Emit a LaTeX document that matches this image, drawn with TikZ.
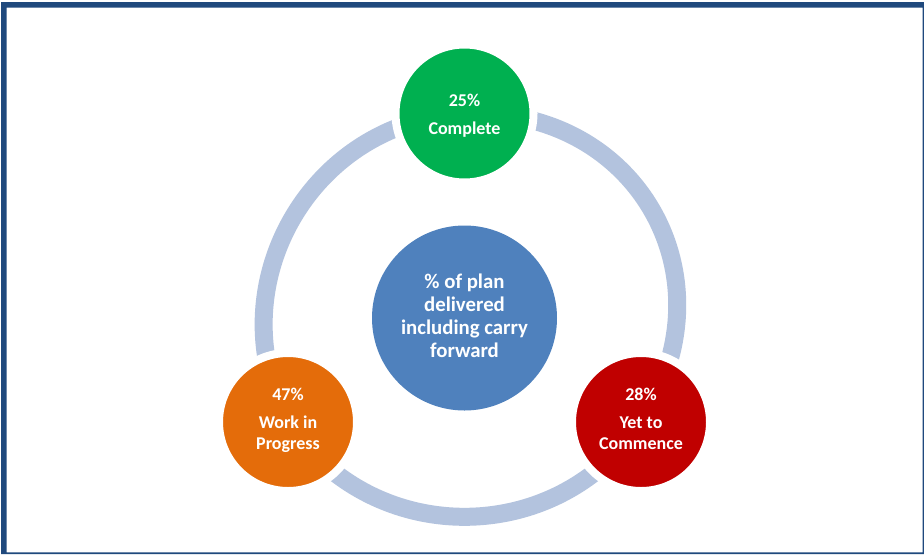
\documentclass[tikz,border=0pt]{standalone}
\usepackage{fontspec}
\setmainfont{Carlito}
\usetikzlibrary{calc,backgrounds}
\definecolor{frameblue}{HTML}{1F497D}
\definecolor{ringblue}{HTML}{B3C3DE}
\definecolor{hubblue}{HTML}{4F81BD}
\definecolor{donegreen}{HTML}{00B050}
\definecolor{wiporange}{HTML}{E46C0A}
\definecolor{pendred}{HTML}{C00000}
\begin{document}
\begin{tikzpicture}[x=1pt,y=-1pt,
  ring/.style={draw=ringblue, line width=18pt},
  hub/.style={circle, fill=hubblue, minimum size=185pt, inner sep=0pt},
  sat/.style={circle, draw=white, line width=8pt, minimum size=138pt, inner sep=0pt},
  sattext/.style={anchor=base, text=white, inner sep=0pt,
    font=\fontsize{18}{21.6}\selectfont\bfseries},
  hubtext/.style={anchor=base, text=white, inner sep=0pt,
    font=\fontsize{20.8}{23}\selectfont\bfseries}]
\useasboundingbox (0,0) rectangle (924,555);

% hub and the three status circles
\node[hub] (hub) at (464.5,318) {};
\node[sat, fill=donegreen] (done) at (464.5,113.5) {};
\node[sat, fill=wiporange] (wip) at (288,422) {};
\node[sat, fill=pendred] (pend) at (641,422) {};

% cycle ring behind the circles
\begin{pgfonlayer}{background}
  \fill[white] (0,0) rectangle (924,555);
  \draw[ring] (done.center) to[bend left=62.8, looseness=1.24] (pend.center);
  \draw[ring] (done.center) to[bend right=57.5, looseness=1.11] (wip.center);
  \draw[ring] (wip.center) to[bend right=56.6, looseness=1.10] (pend.center);
\end{pgfonlayer}

% labels
\node[hubtext] (hubA) at ($(hub)+(0,-29.5)$) {\% of plan};
\node[hubtext] (hubB) at ($(hub)+(0,-6.4)$) {delivered};
\node[hubtext] (hubC) at ($(hub)+(0,16.7)$) {including carry};
\node[hubtext] (hubD) at ($(hub)+(0,39.8)$) {forward};

\node[sattext] (doneA) at ($(done)+(0,-6.8)$) {25\%};
\node[sattext] (doneB) at ($(done)+(0,20.5)$) {Complete};

\node[sattext] (wipA) at ($(wip)+(0,-22)$) {47\%};
\node[sattext] (wipB) at ($(wip)+(0,6)$) {Work in};
\node[sattext] (wipC) at ($(wip)+(0,27.5)$) {Progress};

\node[sattext] (pendA) at ($(pend)+(0,-22)$) {28\%};
\node[sattext] (pendB) at ($(pend)+(0,6)$) {Yet to};
\node[sattext] (pendC) at ($(pend)+(0,27.5)$) {Commence};

% outer frame, heavier along the top and left
\fill[frameblue, even odd rule] (1,2) rectangle (924,554.2)
  (6.7,7.7) rectangle (922.6,552.4);
\end{tikzpicture}
\end{document}
